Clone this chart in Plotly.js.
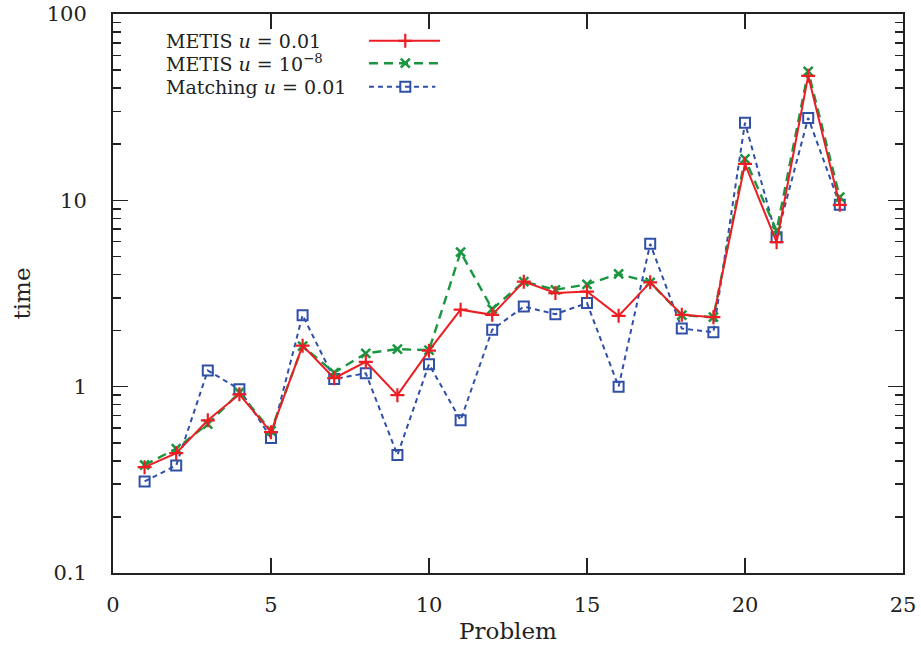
<!DOCTYPE html>
<html>
<head>
<meta charset="utf-8">
<script src="https://cdn.plot.ly/plotly-3.0.1.min.js"></script>
<style>html,body{margin:0;padding:0;background:#fff;} #chart{width:921px;height:648px;}</style>
</head>
<body>
<div id="chart"></div>
<script>
// Data
var problems = [1,2,3,4,5,6,7,8,9,10,11,12,13,14,15,16,17,18,19,20,21,22,23];
var metis001 = [0.37,0.44,0.66,0.91,0.57,1.66,1.11,1.36,0.90,1.56,2.59,2.43,3.66,3.18,3.24,2.40,3.63,2.43,2.36,15.7,5.96,46.6,9.46];
var metis1e8 = [0.38,0.465,0.63,0.93,0.58,1.65,1.19,1.51,1.59,1.57,5.27,2.61,3.66,3.31,3.54,4.03,3.63,2.42,2.36,16.7,6.88,49.2,10.4];
var matching001 = [0.31,0.378,1.22,0.97,0.53,2.42,1.10,1.18,0.43,1.32,0.66,2.02,2.69,2.45,2.81,1.00,5.84,2.05,1.96,26.1,6.34,27.7,9.46];
var seriesNames = ['METIS <i>u</i> = 0.01', 'METIS <i>u</i> = 10<sup>−8</sup>', 'Matching <i>u</i> = 0.01'];
var yTickVals = [0.1, 1, 10, 100];
var yTickText = ['0.1', '1', '10', '100'];

var RED = 'rgb(236,30,36)';
var GREEN = 'rgb(26,150,64)';
var BLUE = 'rgb(48,80,168)';

var styles = [
  {color: RED, dash: 'solid', width: 2, symbol: 'cross-thin-open', msize: 10, mline: 2.2},
  {color: GREEN, dash: '9px,6px', width: 2.4, symbol: 'x-thin-open', msize: 9, mline: 2.6},
  {color: BLUE, dash: '5px,4px', width: 2, symbol: 'square-open', msize: 10, mline: 2}
];
var dataSets = [metis001, metis1e8, matching001];

var traces = [];
// draw blue first, then green, then red on top
[2,1,0].forEach(function(i){
  var s = styles[i];
  traces.push({
    x: problems, y: dataSets[i], type: 'scatter', mode: 'lines+markers',
    name: seriesNames[i], showlegend: false, hoverinfo: 'skip',
    line: {color: s.color, dash: s.dash, width: s.width},
    marker: {symbol: s.symbol, size: s.msize, color: s.color, line: {color: s.color, width: s.mline}}
  });
});

// legend samples on an invisible overlay axis (paper-like 0..1 coords)
var legY = [0.952, 0.912, 0.870];
var legX0 = 0.324, legX1 = [0.414, 0.414, 0.408], legXm = 0.370;
var annotations = [];
for (var i = 0; i < 3; i++) {
  var s = styles[i];
  traces.push({
    x: [legX0, legX1[i]], y: [legY[i], legY[i]], xaxis: 'x2', yaxis: 'y2',
    type: 'scatter', mode: 'lines', showlegend: false, hoverinfo: 'skip',
    line: {color: s.color, dash: s.dash, width: s.width}
  });
  traces.push({
    x: [legXm], y: [legY[i]], xaxis: 'x2', yaxis: 'y2',
    type: 'scatter', mode: 'markers', showlegend: false, hoverinfo: 'skip',
    marker: {symbol: s.symbol, size: s.msize, color: s.color, line: {color: s.color, width: s.mline}}
  });
  annotations.push({
    xref: 'x2', yref: 'y2', x: 0.064, y: legY[i], xanchor: 'left', yanchor: 'middle',
    text: seriesNames[i], showarrow: false,
    font: {family: 'DejaVu Serif', size: 19, color: '#222'}
  });
}

var axisCommon = {
  showline: true, linecolor: '#222', linewidth: 2, mirror: 'ticks',
  ticks: 'inside', tickcolor: '#222', tickwidth: 1.5, ticklen: 15,
  showgrid: false, zeroline: false,
  tickfont: {family: 'DejaVu Serif', size: 21, color: '#222'}
};

var layout = {
  width: 921, height: 648,
  margin: {l: 113, r: 18, t: 14, b: 75},
  paper_bgcolor: '#fff', plot_bgcolor: '#fff',
  showlegend: false,
  xaxis: Object.assign({}, axisCommon, {
    range: [0, 25], tickvals: [0,5,10,15,20,25], ticktext: ['0','5','10','15','20','25'],
    ticklabelstandoff: 12,
    title: {text: 'Problem', standoff: 7, font: {family: 'DejaVu Serif', size: 23, color: '#222'}}
  }),
  yaxis: Object.assign({}, axisCommon, {
    type: 'log', range: [-1, 2], tickvals: yTickVals, ticktext: yTickText,
    ticklabelstandoff: 20,
    minor: {ticks: 'inside', ticklen: 8, tickcolor: '#222', tickwidth: 1.5, dtick: 'D1', showgrid: false},
    title: {text: 'time', standoff: 10, font: {family: 'DejaVu Serif', size: 23, color: '#222'}}
  }),
  xaxis2: {overlaying: 'x', range: [0, 1], visible: false, anchor: 'y2', fixedrange: true},
  yaxis2: {overlaying: 'y', range: [0, 1], visible: false, anchor: 'x2', fixedrange: true},
  annotations: annotations
};

Plotly.newPlot('chart', traces, layout, {displayModeBar: false, staticPlot: true});
</script>
</body>
</html>
